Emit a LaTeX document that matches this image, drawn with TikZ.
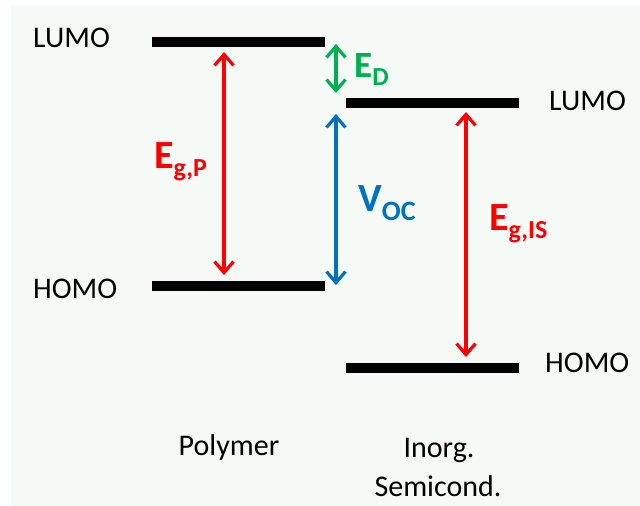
\documentclass[tikz,border=0pt]{standalone}
\usepackage{fontspec}
\setmainfont{Carlito}
\usetikzlibrary{arrows.meta}
\definecolor{bgc}{HTML}{F6FAF7}
\definecolor{myred}{HTML}{FF0000}
\definecolor{mygreen}{HTML}{00B050}
\definecolor{myblue}{HTML}{0070C0}
\tikzset{
  level/.style={line width=10pt, black},
  gap/.style={line width=3.2pt, {Straight Barb[length=11pt,width=19pt]}-{Straight Barb[length=11pt,width=19pt]}},
  lbl/.style={font=\fontsize{30}{32}\selectfont, inner sep=0pt},
  big/.style={font=\fontsize{40}{42}\selectfont\bfseries, inner sep=0pt},
}
\begin{document}
\begin{tikzpicture}[x=1pt,y=-1pt]
\useasboundingbox (0,0) rectangle (640,506);
\fill[bgc] (11,6) rectangle (640,506);
% levels
\coordinate (pl1) at (152,42);  \coordinate (pl2) at (325,42);
\coordinate (ph1) at (152,286); \coordinate (ph2) at (325,286);
\coordinate (il1) at (346,103); \coordinate (il2) at (519,103);
\coordinate (ih1) at (346,368); \coordinate (ih2) at (519,368);
\draw[level] (pl1) -- (pl2);
\draw[level] (ph1) -- (ph2);
\draw[level] (il1) -- (il2);
\draw[level] (ih1) -- (ih2);
% labels
\node[lbl, anchor=base west] (lumoL) at (33,47) {LUMO};
\node[lbl, anchor=base west] (homoL) at (33,298) {HOMO};
\node[lbl, anchor=base west] (lumoR) at (549,110) {LUMO};
\node[lbl, anchor=base west] (homoR) at (545,372) {HOMO};
% arrow end points
\coordinate (a1) at (224,52);  \coordinate (a2) at (224,275);
\coordinate (g1) at (336,44);  \coordinate (g2) at (336,93);
\coordinate (b1) at (336,114); \coordinate (b2) at (336,285);
\coordinate (r1) at (466,112); \coordinate (r2) at (466,357);
\draw[gap, myred] (a1) -- (a2);
\draw[gap, mygreen] (g1) -- (g2);
\draw[gap, myblue] (b1) -- (b2);
\draw[gap, myred] (r1) -- (r2);
% energy labels
\node[big, anchor=base west, text=myred] (egp) at (154,168) {E\textsubscript{\fontsize{26}{28}\selectfont g,P}};
\node[big, anchor=base west, text=mygreen, font=\fontsize{37}{39}\selectfont\bfseries] (ed) at (354,77) {E\textsubscript{\fontsize{26}{28}\selectfont D}};
\node[big, anchor=base west, text=myblue] (voc) at (358,211) {V\textsubscript{\fontsize{28}{30}\selectfont OC}};
\node[big, anchor=base west, text=myred] (egis) at (489,230) {E\textsubscript{\fontsize{26}{28}\selectfont g,IS}};
% material labels
\node[lbl, anchor=base] (poly) at (229,455) {Polymer};
\node[lbl, anchor=base] (inorg) at (439,457) {Inorg.};
\node[lbl, anchor=base] (semi) at (438,496) {Semicond.};
\end{tikzpicture}
\end{document}
